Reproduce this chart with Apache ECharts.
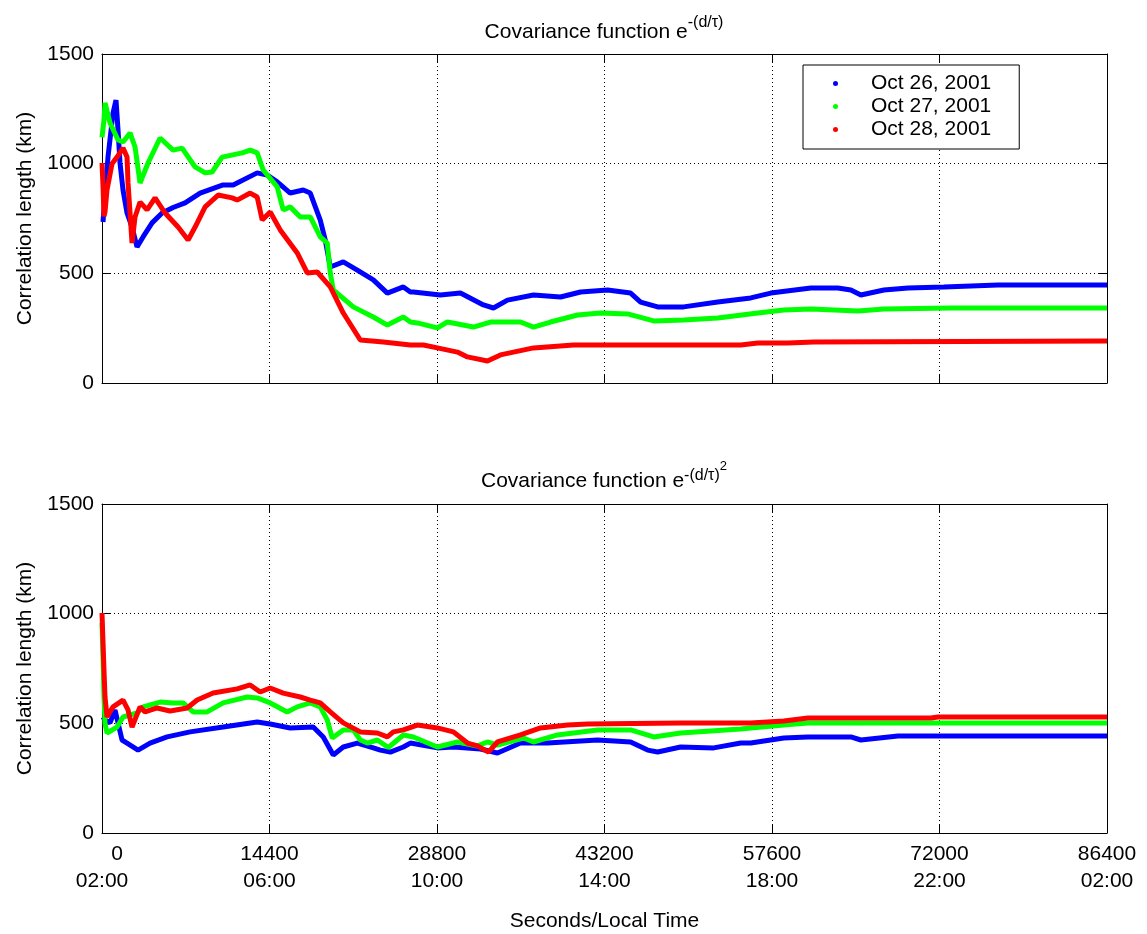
<!DOCTYPE html>
<html>
<head>
<meta charset="utf-8">
<script src="https://cdn.jsdelivr.net/npm/echarts@6/dist/echarts.min.js"></script>
<style>
html,body{margin:0;padding:0;background:#fff;}
#chart{width:1147px;height:934px;}
</style>
</head>
<body>
<div id="chart"></div>
<script>
// ---- Data (x in seconds, y in km) ----
const seriesNames = ['Oct 26, 2001', 'Oct 27, 2001', 'Oct 28, 2001'];
const seriesColors = ['#0000FF', '#00FF00', '#FF0000'];
const xTickSeconds = [0, 14400, 28800, 43200, 57600, 72000, 86400];
const xTickTimes = ['02:00', '06:00', '10:00', '14:00', '18:00', '22:00', '02:00'];
const yTicks = [0, 500, 1000, 1500];

// Top panel: exponential covariance
const topBlueT = [86, 516, 947, 1205, 1377, 1549, 1807, 2152, 2582, 3012, 3529, 4304, 5164, 6111, 7144, 8435, 10414, 11275, 13341, 14202, 15062, 16181, 17300, 17903, 18763, 19194, 19624, 20743, 21948, 23325, 24530, 25907, 26510, 26768, 29092, 30813, 32793, 33653, 34859, 37096, 39420, 41141, 43465, 45445, 46305, 47769, 50007, 52933, 55773, 57495, 60938, 63262, 64380, 65241, 67221, 69286, 72385, 77033, 86400];
const topBlueV = [734, 1030, 1231, 1290, 1154, 1003, 880, 775, 711, 620, 666, 730, 775, 800, 821, 866, 903, 903, 958, 948, 917, 866, 880, 866, 743, 652, 529, 552, 515, 470, 410, 438, 415, 415, 401, 410, 356, 342, 378, 401, 392, 415, 424, 410, 369, 347, 347, 369, 388, 410, 433, 433, 424, 401, 424, 433, 438, 447, 447];

const topGreenT = [0, 172, 258, 689, 1377, 1807, 2410, 2840, 3271, 3959, 4992, 6111, 6886, 8005, 8865, 9468, 10328, 12050, 12738, 13341, 13857, 15062, 15579, 16181, 17042, 17903, 18763, 19366, 19624, 19882, 21604, 23325, 24530, 25907, 26510, 27112, 28833, 29694, 31932, 33395, 35117, 35977, 37096, 38559, 40883, 42863, 45187, 47425, 50007, 52933, 56376, 58614, 60938, 64983, 67221, 72987, 86400];
const topGreenV = [1120, 1200, 1277, 1186, 1108, 1099, 1140, 1076, 912, 1003, 1117, 1062, 1071, 985, 958, 962, 1030, 1049, 1062, 1049, 971, 894, 789, 803, 757, 757, 666, 638, 502, 424, 347, 301, 264, 301, 278, 274, 251, 278, 255, 278, 278, 278, 255, 278, 310, 319, 315, 283, 287, 296, 319, 333, 337, 328, 337, 342, 342];

const topRedT = [0, 86, 172, 258, 430, 861, 1291, 1807, 2152, 2238, 2410, 2582, 2840, 3271, 3873, 4562, 5422, 6541, 7402, 8005, 8865, 9984, 11189, 11619, 12738, 13341, 13771, 14460, 15320, 16784, 17644, 18505, 19624, 20743, 22206, 24186, 26510, 27628, 28833, 30555, 31416, 33137, 34256, 37096, 40539, 54913, 56376, 58958, 61196, 86400];
const topRedV = [1003, 900, 760, 780, 880, 1000, 1030, 1071, 1030, 912, 775, 638, 757, 825, 789, 844, 775, 711, 652, 711, 803, 857, 844, 834, 866, 848, 743, 780, 698, 593, 502, 506, 438, 319, 196, 187, 173, 173, 160, 141, 119, 100, 128, 160, 173, 173, 182, 182, 187, 192];

// Bottom panel: Gaussian covariance
const botBlueT = [86, 258, 689, 1119, 1377, 1721, 2152, 3099, 4131, 5595, 7574, 10414, 13341, 14460, 16181, 18161, 19021, 19882, 20743, 21948, 23325, 23927, 24788, 25907, 26510, 28833, 30211, 32534, 33998, 35977, 38301, 42605, 45445, 46908, 47769, 49748, 52589, 54913, 55773, 58614, 60679, 64380, 65241, 68426, 86400];
const botBlueV = [529, 515, 502, 561, 502, 424, 410, 378, 410, 438, 461, 483, 506, 497, 479, 483, 438, 356, 392, 410, 388, 378, 369, 392, 410, 388, 392, 383, 365, 410, 410, 424, 415, 378, 369, 392, 388, 410, 410, 433, 438, 438, 424, 442, 442];

const botGreenT = [0, 86, 172, 258, 430, 1291, 1807, 3012, 3529, 4992, 6111, 6972, 7832, 9037, 10414, 12480, 13341, 14460, 15923, 16784, 17903, 18763, 19366, 19796, 20743, 21604, 22206, 22809, 23669, 24616, 25907, 26768, 28833, 30555, 32276, 33137, 33998, 36235, 37096, 39162, 42605, 45445, 47425, 49748, 54913, 55773, 58614, 60679, 71866, 86400];
const botGreenV = [958, 800, 620, 500, 456, 483, 529, 547, 575, 597, 593, 593, 552, 552, 593, 620, 616, 593, 552, 575, 593, 575, 515, 433, 470, 470, 424, 410, 424, 390, 447, 438, 392, 415, 397, 415, 401, 433, 415, 447, 470, 470, 438, 456, 474, 479, 492, 502, 502, 502];

const botRedT = [0, 86, 172, 258, 430, 947, 1807, 2238, 2582, 3271, 3701, 4734, 5853, 7316, 8177, 9554, 11619, 12738, 13599, 14460, 15579, 17042, 17903, 18763, 19624, 20743, 22206, 23669, 24530, 25046, 25907, 27112, 28833, 30211, 31416, 32276, 33223, 33998, 35977, 37699, 40023, 41744, 49748, 54913, 55773, 58614, 60679, 71266, 71868, 86400];
const botRedV = [1003, 870, 740, 620, 529, 575, 606, 561, 483, 575, 552, 570, 556, 570, 606, 638, 657, 675, 643, 661, 638, 620, 606, 593, 552, 502, 461, 456, 438, 461, 470, 492, 479, 461, 410, 397, 369, 415, 447, 479, 492, 497, 502, 502, 502, 511, 524, 524, 529, 529];

// ---- Build chart ----
const FONT = 'Liberation Sans, Arial, Helvetica, sans-serif';
const zip = (t, v) => t.map((x, i) => [x, v[i]]);

const chart = echarts.init(document.getElementById('chart'), null, {renderer: 'canvas'});

const grids = [
  {left: 102, right: 40, top: 54, height: 329},
  {left: 102, right: 40, top: 504, height: 329}
];

const dotted = {show: true, lineStyle: {color: '#000', width: 1, type: [1, 3]}};
const axLine = {show: true, onZero: false, lineStyle: {color: '#000', width: 1}};
const tickIn = {show: true, inside: true, length: 9, lineStyle: {color: '#000', width: 1}};

function xAx(gridIndex, position, withLabels, withGrid) {
  return {
    type: 'value', gridIndex, position, min: 0, max: 86400, interval: 14400,
    axisLine: axLine, axisTick: tickIn,
    splitLine: withGrid ? dotted : {show: false},
    axisLabel: withLabels ? {
      show: true, margin: 8, showMinLabel: true, showMaxLabel: true,
      fontFamily: FONT, color: '#000',
      formatter: function (v) {
        const i = xTickSeconds.indexOf(v);
        const t = i >= 0 ? xTickTimes[i] : '';
        if (v === 0) return '{z|0}\n{t|' + t + '}';
        return '{n|' + v + '}\n{t|' + t + '}';
      },
      rich: {
        n: {fontSize: 21, lineHeight: 27, fontFamily: FONT, color: '#000'},
        z: {fontSize: 21, lineHeight: 27, fontFamily: FONT, color: '#000', padding: [0, 0, 0, 30]},
        t: {fontSize: 21, lineHeight: 27, fontFamily: FONT, color: '#000'}
      }
    } : {show: false}
  };
}
function yAx(gridIndex, position, withLabels) {
  return {
    type: 'value', gridIndex, position, min: 0, max: 1500, interval: 500,
    axisLine: axLine, axisTick: tickIn,
    splitLine: withLabels ? dotted : {show: false},
    name: withLabels ? 'Correlation length (km)' : '',
    nameLocation: 'middle', nameRotate: 90, nameGap: 66,
    nameTextStyle: {fontFamily: FONT, fontSize: 21, color: '#000'},
    axisLabel: withLabels ? {show: true, fontFamily: FONT, fontSize: 21, color: '#000', margin: 8,
      showMinLabel: true, showMaxLabel: true,
      formatter: v => yTicks.indexOf(v) >= 0 ? String(v) : ''} : {show: false}
  };
}

const xAxes = [
  xAx(0, 'bottom', false, true),
  xAx(0, 'top', false, false),
  Object.assign(xAx(1, 'bottom', true, true), {
    name: 'Seconds/Local Time', nameLocation: 'middle', nameGap: 78,
    nameTextStyle: {fontFamily: FONT, fontSize: 21, color: '#000'}
  }),
  xAx(1, 'top', false, false)
];
const yAxes = [
  yAx(0, 'left', true), yAx(0, 'right', false),
  yAx(1, 'left', true), yAx(1, 'right', false)
];

function lineSeries(name, color, data, xi, yi) {
  return {
    name, type: 'line', data, xAxisIndex: xi, yAxisIndex: yi,
    showSymbol: false, symbol: 'circle', symbolSize: 5,
    itemStyle: {color}, lineStyle: {color, width: 5},
    animation: false, silent: true
  };
}

const series = [
  lineSeries(seriesNames[0], seriesColors[0], zip(topBlueT, topBlueV), 0, 0),
  lineSeries(seriesNames[1], seriesColors[1], zip(topGreenT, topGreenV), 0, 0),
  lineSeries(seriesNames[2], seriesColors[2], zip(topRedT, topRedV), 0, 0),
  lineSeries(seriesNames[0], seriesColors[0], zip(botBlueT, botBlueV), 2, 2),
  lineSeries(seriesNames[1], seriesColors[1], zip(botGreenT, botGreenV), 2, 2),
  lineSeries(seriesNames[2], seriesColors[2], zip(botRedT, botRedV), 2, 2)
];

const base = {fontFamily: FONT, color: '#000', fontWeight: 'normal', verticalAlign: 'bottom'};
const titleRich = {
  m: Object.assign({}, base, {fontSize: 21, lineHeight: 22}),
  s: Object.assign({}, base, {fontSize: 16, lineHeight: 17, padding: [0, 0, 12, 0]}),
  s2: Object.assign({}, base, {fontSize: 16, lineHeight: 17, padding: [0, 0, 8, 0]}),
  q: Object.assign({}, base, {fontSize: 13, lineHeight: 13, padding: [0, 0, 19, 0]})
};

chart.setOption({
  backgroundColor: '#fff',
  animation: false,
  grid: grids,
  title: [
    {text: '{m|Covariance function e}{s|-(d/τ)}', left: 604, top: 21, textAlign: 'center', padding: 0,
     textStyle: {fontWeight: 'normal', rich: titleRich}},
    {text: '{m|Covariance function e}{s2|-(d/τ)}{q|2}', left: 604, top: 470, textAlign: 'center', padding: 0,
     textStyle: {fontWeight: 'normal', rich: titleRich}}
  ],
  legend: {
    show: true, orient: 'vertical', left: 803, top: 65,
    data: seriesNames,
    icon: 'circle', itemWidth: 5, itemHeight: 5, itemGap: 0,
    padding: [7, 28, 8, 30],
    backgroundColor: '#fff', borderColor: '#000', borderWidth: 1,
    textStyle: {fontFamily: FONT, fontSize: 21, color: '#000', lineHeight: 23, padding: [0, 0, 0, 28]},
    selectedMode: false
  },
  xAxis: xAxes,
  yAxis: yAxes,
  series
});
</script>
</body>
</html>
